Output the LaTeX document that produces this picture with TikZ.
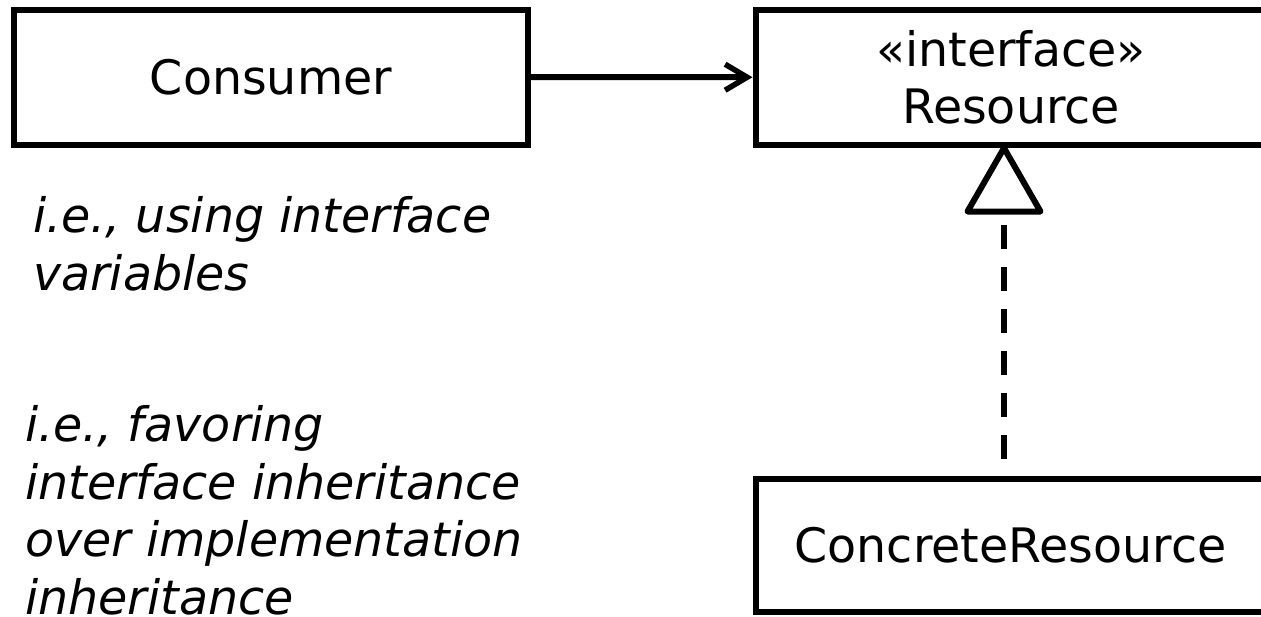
\documentclass[tikz,border=0pt]{standalone}
\usepackage{fontspec}
\setmainfont{DejaVu Sans}
\usetikzlibrary{arrows.meta}
\begin{document}
\begin{tikzpicture}[x=1pt,y=-1pt,
  umlbox/.style={draw, line width=6pt, inner sep=0pt, align=center,
    font=\fontsize{47.5}{57}\selectfont},
  note/.style={inner sep=0pt, align=left, anchor=base west,
    font=\fontsize{47.5}{57.5}\selectfont\itshape},
  assoc/.style={line width=6pt,
    -{Straight Barb[length=22pt, width=26pt, line width=5.5pt]}},
  realize/.style={line width=6pt, dash pattern=on 24pt off 18pt, dash phase=25pt},
  hollowtri/.style={line width=6pt, line join=round, fill=white}]
\fill[white] (0,0) rectangle (1261,616);
\useasboundingbox (0,0) rectangle (1261,616);

% classes
\node[umlbox, minimum width=514pt, minimum height=135pt] (consumer) at (271,77) {Consumer};
\node[umlbox, minimum width=511pt, minimum height=135.5pt] (resource) at (1011,77.25) {«interface»\\Resource};
\node[umlbox, minimum width=510pt, minimum height=133pt] (concrete) at (1010.5,545.5) {ConcreteResource};

% dependency
\draw[assoc] (consumer.east) -- (resource.west);

% realization: hollow triangle plus dashed line
\path (resource.south) ++(-7,0) coordinate (tip);
\path (tip) ++(0,63.5) coordinate (base);
\draw[hollowtri] (tip) -- ++(-36.5,63.5) -- ++(73,0) -- cycle;
\draw[realize] (concrete.north -| base) -- (base);

% notes (anchored at the baseline of the last line)
\node[note] (usenote) at (33,290) {i.e., using interface\\variables};
\node[note] (inhnote) at (25,614) {i.e., favoring\\interface inheritance\\over implementation\\inheritance};
\end{tikzpicture}
\end{document}
